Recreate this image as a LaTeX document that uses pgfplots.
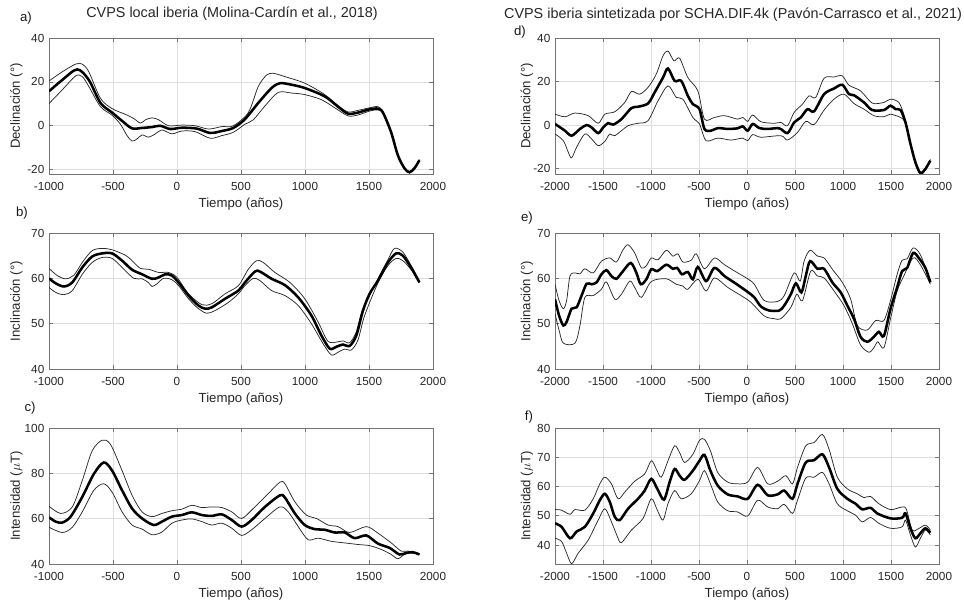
\documentclass[border=0pt]{standalone}
\usepackage{fontspec}
\setmainfont{Liberation Sans}
\usepackage{pgfplots}
\pgfplotsset{compat=1.18}

\pgfplotsset{
 panel/.style={scale only axis,width=288pt,height=102pt,anchor=south west,
  axis line style={black!55},tick style={black!55,line width=0.4pt},tick align=inside,major tick length=2.8pt,
  grid=major,major grid style={black!13,line width=0.4pt},
  ticklabel style={font=\fontsize{8.8}{10}\selectfont,text=black!85},
  xticklabel style={yshift=-3pt},
  label style={font=\fontsize{9.9}{11}\selectfont,text=black!85},
  xlabel={Tiempo (años)},xlabel style={at={(axis description cs:0.5,-0.22)},anchor=center},
  scaled ticks=false,clip=true,
  /pgf/number format/1000 sep={},/pgf/number format/assume math mode=true},
 left/.style={panel,xmin=-1000,xmax=2000,xtick={-1000,-500,...,2000},
  ylabel style={at={(axis description cs:-0.085,0.5)},anchor=center}},
 right/.style={panel,xmin=-2000,xmax=2000,xtick={-2000,-1500,...,2000},
  ylabel style={at={(axis description cs:-0.073,0.5)},anchor=center}},
 mean/.style={black,line width=1.9pt,smooth,tension=0.5},
 band/.style={black!85,line width=0.55pt,smooth,tension=0.5},
}

\begin{document}
\begin{tikzpicture}
\useasboundingbox (0,0) rectangle (723pt,453pt);

% titles and panel letters
\node[font=\fontsize{10.8}{12}\selectfont,text=black!85] at (174pt,442.5pt) {CVPS local iberia (Molina-Cardín et al., 2018)};
\node[font=\fontsize{10.8}{12}\selectfont,text=black!85] at (549.75pt,441.75pt) {CVPS iberia sintetizada por SCHA.DIF.4k (Pavón-Carrasco et al., 2021)};
\begin{scope}[every node/.style={font=\fontsize{9.9}{11}\selectfont,text=black!90}]
\node at (19.5pt,439.5pt) {a)};
\node at (390pt,429pt) {d)};
\node at (16.5pt,293.25pt) {b)};
\node at (395.25pt,289.5pt) {e)};
\node at (22.5pt,147pt) {c)};
\node at (396.75pt,140.25pt) {f)};
\end{scope}

% a) declinacion, local
\begin{axis}[left,at={(36.75pt,322.5pt)},ymin=-22,ymax=40,ytick={-20,0,20,40},ylabel={Declinación (°)}]
\addplot[band] coordinates {(-1000,20.4)(-896,24.6)(-792,28.1)(-740,28.1)(-689,24.6)(-598,12.5)(-507,7.8)(-403,5.2)(-338,3.3)(-286,1.2)(-247,2.7)(-195,3.6)(-143,2.7)(-66,0)(38,0.3)(142,0)(246,-1.5)(350,-0.4)(440,0)(557,6.0)(635,17.9)(700,23.1)(752,23.9)(843,22.4)(998,19.4)(1154,14.2)(1258,9.2)(1336,6.3)(1414,7.0)(1505,8.2)(1570,8.7)(1609,6.3)(1673,-2.7)(1725,-13.1)(1777,-19.1)(1816,-20.9)(1855,-19.1)(1894,-15.4)};
\addplot[band] coordinates {(-1000,10.1)(-896,16.4)(-792,22.7)(-740,22.4)(-689,17.9)(-598,8.7)(-507,4.8)(-442,0.7)(-390,-4.5)(-351,-7.0)(-312,-6.0)(-273,-4.2)(-221,-5.2)(-169,-3.7)(-118,-1.9)(-40,-3.7)(38,-2.4)(142,-2.7)(259,-5.7)(350,-4.5)(440,-3.0)(531,0.7)(596,2.7)(687,9.0)(791,15.2)(895,14.9)(998,14.2)(1128,11.9)(1232,8.2)(1336,4.5)(1414,4.9)(1505,6.7)(1570,7.2)(1609,5.7)(1673,-3.3)(1725,-13.7)(1777,-19.7)(1816,-21.5)(1855,-19.7)(1894,-16.0)};
\addplot[mean] coordinates {(-1000,15.7)(-896,20.9)(-779,25.7)(-689,20.9)(-598,10.4)(-507,6.0)(-429,2.2)(-351,-1.2)(-273,-1.0)(-195,-0.6)(-131,0)(-53,-1.5)(38,-0.9)(155,-1.3)(259,-3.3)(350,-2.4)(440,-1.0)(531,3.0)(635,10.4)(739,17.2)(804,19.4)(895,18.7)(998,17.2)(1154,13.4)(1258,8.7)(1336,5.5)(1414,6.0)(1505,7.5)(1570,7.8)(1609,6.0)(1673,-3.0)(1725,-13.4)(1777,-19.4)(1816,-21.2)(1855,-19.4)(1894,-15.7)};
\end{axis}

% b) inclinacion, local
\begin{axis}[left,at={(36.75pt,176.25pt)},ymin=40,ymax=70,ytick={40,50,60,70},ylabel={Inclinación (°)}]
\addplot[band] coordinates {(-1000,62.2)(-935,60.6)(-870,59.9)(-805,60.7)(-740,63.5)(-663,66.1)(-585,66.6)(-507,66.3)(-403,65.1)(-351,63.9)(-286,62.2)(-221,62.0)(-143,61.3)(-66,61.3)(0,60.2)(90,56.6)(194,54.2)(272,54.4)(376,56.6)(480,58.4)(557,62.0)(622,63.9)(674,63.5)(765,61.3)(882,59.1)(998,55.5)(1102,50.4)(1180,46.1)(1258,46.0)(1297,46.2)(1349,45.8)(1401,48.2)(1453,53.3)(1570,59.9)(1648,64.1)(1699,66.6)(1764,65.8)(1829,62.8)(1894,59.3)};
\addplot[band] coordinates {(-1000,58.0)(-948,56.9)(-883,56.4)(-818,57.3)(-740,60.9)(-663,63.5)(-585,64.6)(-507,64.4)(-429,62.4)(-338,60.0)(-273,59.9)(-221,59.0)(-195,58.2)(-156,58.8)(-105,60.0)(-40,59.7)(12,58.4)(90,55.5)(168,53.3)(233,52.3)(298,52.9)(402,54.7)(480,56.6)(531,58.4)(596,60.0)(648,59.5)(739,57.3)(843,56.2)(947,54.0)(1050,50.0)(1141,45.6)(1206,43.1)(1258,43.7)(1310,44.4)(1362,44.2)(1414,46.4)(1466,51.8)(1570,59.0)(1648,62.8)(1712,64.4)(1764,63.9)(1829,61.9)(1894,59.0)};
\addplot[mean] coordinates {(-1000,60.0)(-948,58.9)(-883,58.2)(-818,59.1)(-740,62.4)(-663,64.8)(-585,65.5)(-507,65.5)(-429,63.9)(-351,61.9)(-273,60.9)(-195,59.9)(-143,60.2)(-92,60.9)(-40,60.6)(12,59.1)(90,56.2)(168,54.0)(220,53.3)(272,53.6)(376,55.5)(480,57.3)(531,59.1)(609,61.5)(648,61.5)(739,59.9)(843,58.5)(947,55.8)(1050,51.8)(1128,47.4)(1193,44.5)(1245,44.9)(1297,45.4)(1349,45.1)(1401,47.4)(1453,52.9)(1505,56.6)(1570,59.5)(1648,63.5)(1712,65.5)(1764,65.0)(1829,62.4)(1894,59.1)};
\end{axis}

% c) intensidad, local
\begin{axis}[left,at={(36.75pt,30pt)},ymin=40,ymax=100,ytick={40,60,80,100},ylabel={Intensidad ($\mu$T)}]
\addplot[band] coordinates {(-1000,65.5)(-909,62.3)(-818,65.2)(-740,76.8)(-663,89.9)(-585,94.6)(-520,92.8)(-429,81.2)(-351,70.3)(-273,63.0)(-195,60.9)(-118,62.3)(-40,63.5)(38,64.2)(116,65.9)(194,64.9)(272,65.2)(350,64.9)(428,63.0)(505,60.1)(596,64.5)(700,70.3)(804,76.1)(843,75.4)(921,67.4)(1011,61.6)(1089,60.1)(1180,57.2)(1258,56.5)(1349,53.9)(1479,56.5)(1570,53.6)(1674,49.3)(1751,45.7)(1803,45.7)(1894,44.6)};
\addplot[band] coordinates {(-1000,56.2)(-896,53.9)(-818,56.2)(-740,63.0)(-650,72.5)(-572,75.4)(-507,71.7)(-429,63.0)(-351,57.2)(-273,55.4)(-195,52.9)(-118,54.1)(-40,58.0)(38,59.4)(116,59.9)(194,58.7)(272,57.2)(350,58.0)(428,55.8)(505,52.6)(583,55.1)(687,60.1)(804,65.2)(869,63.0)(947,56.5)(1024,50.7)(1102,51.4)(1206,50.0)(1310,49.3)(1414,48.6)(1505,48.1)(1596,46.4)(1674,44.2)(1725,42.3)(1777,44.2)(1842,44.9)(1894,44.1)};
\addplot[mean] coordinates {(-1000,60.6)(-948,58.7)(-896,58.3)(-831,60.9)(-740,69.6)(-650,79.7)(-572,84.8)(-507,81.2)(-429,72.5)(-351,64.5)(-273,60.1)(-182,57.2)(-118,58.7)(-40,60.9)(38,61.6)(116,62.8)(194,61.6)(272,61.2)(350,61.9)(428,59.4)(505,56.5)(583,59.4)(687,65.2)(804,70.3)(843,69.3)(921,62.3)(998,57.2)(1076,55.4)(1154,55.1)(1232,53.9)(1310,53.9)(1388,51.4)(1479,52.6)(1570,49.0)(1661,47.1)(1738,44.2)(1790,44.9)(1842,45.2)(1894,44.2)};
\end{axis}

% d) declinacion, SCHA.DIF.4k
\begin{axis}[right,at={(416.25pt,322.5pt)},ymin=-22.5,ymax=40,ytick={-20,0,20,40},ylabel={Declinación (°)}]
\addplot[band] coordinates {(-2000,5.0)(-1896,3.8)(-1792,5.5)(-1654,4.3)(-1550,0.8)(-1481,5.0)(-1377,6.1)(-1273,10.4)(-1204,15.4)(-1118,14.2)(-1031,17.3)(-945,23.4)(-875,31.8)(-823,34.0)(-761,29.5)(-702,30.7)(-616,21.8)(-512,15.7)(-443,2.7)(-339,3.5)(-235,4.3)(-97,2.7)(-45,3.5)(7,1.7)(59,4.6)(145,1.5)(284,0.8)(353,1.2)(422,-0.3)(491,5.8)(578,9.6)(647,13.4)(716,12.7)(803,21.5)(907,22.1)(993,22.6)(1062,18.3)(1183,15.7)(1304,10.1)(1426,10.4)(1495,11.9)(1581,10.4)(1633,5.0)(1651,1.7)(1703,-8.2)(1754,-16.6)(1806,-21.6)(1858,-19.7)(1910,-15.8)};
\addplot[band] coordinates {(-2000,-4.1)(-1913,-7.2)(-1862,-12.5)(-1827,-15.1)(-1775,-10.2)(-1689,-4.1)(-1619,-6.4)(-1550,-9.5)(-1481,-7.5)(-1429,-4.1)(-1377,-4.9)(-1239,-0.3)(-1135,0.8)(-1031,2.0)(-927,11.1)(-823,18.0)(-737,12.7)(-668,11.9)(-564,3.5)(-495,0.5)(-426,-7.2)(-305,-6.0)(-166,-6.9)(-45,-6.0)(7,-7.2)(59,-4.4)(145,-5.6)(353,-4.9)(422,-6.9)(526,-3.4)(612,1.7)(699,0.2)(803,6.9)(907,11.9)(1010,14.2)(1114,9.9)(1218,7.3)(1322,4.3)(1426,3.8)(1495,5.0)(1599,3.5)(1633,2.3)(1651,0.7)(1703,-9.2)(1754,-17.6)(1806,-22.6)(1858,-20.7)(1910,-16.8)};
\addplot[mean] coordinates {(-2000,0.5)(-1896,-2.6)(-1827,-4.9)(-1740,-1.8)(-1671,0)(-1619,-1.1)(-1550,-3.7)(-1498,-1.1)(-1446,0.9)(-1394,0.2)(-1308,2.7)(-1204,7.8)(-1135,8.4)(-1031,9.9)(-962,15.0)(-875,21.8)(-823,26.0)(-754,20.3)(-685,20.3)(-616,13.4)(-564,9.6)(-495,7.3)(-443,-1.8)(-374,-2.6)(-305,-1.4)(-201,-1.8)(-97,-1.5)(-45,-0.6)(7,-2.6)(59,0.5)(128,-1.4)(215,-1.8)(336,-1.5)(422,-3.7)(491,1.2)(561,3.5)(630,7.3)(699,6.3)(803,14.2)(907,16.8)(993,18.5)(1062,14.2)(1114,13.7)(1218,10.4)(1304,6.9)(1426,6.9)(1495,8.9)(1547,7.3)(1599,6.9)(1651,1.2)(1703,-8.7)(1754,-17.1)(1806,-22.1)(1858,-20.2)(1910,-16.3)};
\end{axis}

% e) inclinacion, SCHA.DIF.4k
\begin{axis}[right,at={(416.25pt,176.25pt)},ymin=40,ymax=70,ytick={40,50,60,70},ylabel={Inclinación (°)}]
\addplot[band] coordinates {(-2000,58.7)(-1958,55.1)(-1913,53.3)(-1879,55.1)(-1844,60.5)(-1792,61.2)(-1740,61.0)(-1689,62.1)(-1602,61.2)(-1516,63.8)(-1429,64.5)(-1360,63.6)(-1291,66.3)(-1239,67.4)(-1170,65.6)(-1100,62.3)(-1048,62.8)(-997,64.5)(-927,64.1)(-841,66.2)(-772,64.9)(-720,65.4)(-668,63.6)(-581,64.0)(-529,65.4)(-443,62.1)(-339,64.5)(-235,63.0)(-97,61.2)(7,59.9)(76,58.7)(180,55.1)(318,54.9)(388,56.2)(491,61.2)(554,59.4)(595,63.8)(657,66.2)(734,64.9)(803,64.5)(889,62.0)(993,59.1)(1080,55.4)(1149,49.6)(1253,48.6)(1339,50.7)(1426,50.7)(1495,55.1)(1564,60.9)(1616,64.0)(1668,64.3)(1730,66.7)(1806,65.2)(1910,59.4)};
\addplot[band] coordinates {(-2000,52.2)(-1958,48.6)(-1913,45.7)(-1792,45.7)(-1740,49.6)(-1689,55.8)(-1602,56.2)(-1516,57.6)(-1464,59.2)(-1377,55.4)(-1308,56.5)(-1221,59.4)(-1170,58.0)(-1100,55.8)(-997,59.3)(-841,59.9)(-737,58.7)(-668,58.3)(-616,57.6)(-512,59.8)(-426,57.2)(-339,60.1)(-201,58.0)(-62,56.2)(42,54.7)(180,51.7)(284,51.1)(353,51.1)(457,53.6)(519,56.5)(578,55.1)(664,61.6)(734,60.5)(803,60.1)(907,57.2)(1010,54.0)(1097,50.0)(1183,45.3)(1270,43.7)(1322,44.7)(1363,46.0)(1426,44.7)(1495,51.1)(1564,57.2)(1633,60.5)(1730,64.5)(1806,63.0)(1910,58.7)};
\addplot[mean] coordinates {(-2000,55.4)(-1958,51.8)(-1913,49.6)(-1879,50.4)(-1827,53.3)(-1775,53.6)(-1723,56.2)(-1671,58.8)(-1619,58.7)(-1567,59.1)(-1516,60.9)(-1464,61.8)(-1412,60.5)(-1360,59.9)(-1291,61.6)(-1211,63.4)(-1152,61.2)(-1107,58.7)(-1048,59.8)(-997,62.0)(-934,61.6)(-841,63.0)(-772,62.1)(-727,62.3)(-678,60.9)(-616,61.4)(-564,59.8)(-512,62.5)(-426,59.4)(-339,62.3)(-235,60.5)(-114,58.8)(7,57.0)(76,55.8)(145,53.8)(232,52.9)(336,52.9)(388,54.0)(457,56.5)(509,58.9)(567,56.9)(612,60.5)(657,63.8)(734,62.1)(803,62.1)(889,59.1)(976,56.9)(1045,54.0)(1114,51.1)(1183,47.1)(1253,46.0)(1322,47.1)(1374,48.2)(1426,47.3)(1495,53.3)(1564,58.0)(1616,61.6)(1668,62.3)(1730,65.6)(1789,64.5)(1858,62.3)(1910,59.1)};
\end{axis}

% f) intensidad, SCHA.DIF.4k
\begin{axis}[right,at={(416.25pt,30pt)},ymin=33.5,ymax=80,ytick={40,50,60,70,80},ylabel={Intensidad ($\mu$T)}]
\addplot[band] coordinates {(-2000,52.1)(-1931,51.9)(-1844,50.5)(-1792,52.1)(-1689,51.9)(-1602,55.8)(-1533,60.9)(-1481,63.2)(-1412,60.9)(-1343,55.8)(-1273,58.1)(-1170,61.8)(-1066,64.3)(-997,68.8)(-945,66.0)(-893,63.2)(-823,68.8)(-754,73.9)(-702,71.6)(-650,68.2)(-564,71.0)(-495,75.8)(-443,76.1)(-381,72.2)(-305,64.8)(-201,61.5)(-97,60.9)(7,61.5)(111,66.5)(215,60.9)(318,61.8)(405,63.7)(474,60.9)(526,66.5)(612,73.9)(699,75.0)(786,77.8)(855,72.7)(941,63.2)(1045,59.2)(1149,57.5)(1218,56.2)(1287,56.6)(1374,54.1)(1495,52.1)(1616,53.0)(1661,52.1)(1720,45.1)(1772,45.3)(1858,46.8)(1910,45.1)};
\addplot[band] coordinates {(-2000,42.3)(-1931,41.2)(-1879,37.2)(-1827,33.6)(-1758,37.2)(-1654,41.7)(-1550,48.5)(-1481,52.4)(-1412,47.9)(-1343,42.3)(-1308,40.8)(-1204,45.1)(-1083,49.1)(-997,55.8)(-934,51.9)(-875,48.5)(-823,54.1)(-754,58.6)(-685,55.8)(-581,57.5)(-495,62.0)(-443,65.4)(-374,60.3)(-305,54.7)(-201,51.7)(-97,51.3)(7,49.9)(111,55.3)(215,53.0)(318,52.4)(388,53.9)(474,50.8)(526,55.3)(612,62.9)(699,63.2)(786,64.8)(855,60.9)(941,54.1)(1045,51.7)(1131,50.2)(1200,47.9)(1287,49.4)(1374,47.4)(1495,45.7)(1616,46.2)(1651,48.5)(1703,43.4)(1754,39.3)(1806,42.3)(1858,45.1)(1910,43.4)};
\addplot[mean] coordinates {(-2000,47.4)(-1931,46.2)(-1844,42.3)(-1775,44.6)(-1689,46.2)(-1602,50.8)(-1533,55.3)(-1481,57.5)(-1429,54.7)(-1377,49.6)(-1325,48.5)(-1239,52.4)(-1135,55.8)(-1066,58.6)(-997,62.6)(-934,59.2)(-865,55.5)(-806,61.5)(-754,66.0)(-702,63.7)(-650,62.3)(-564,65.4)(-495,68.8)(-443,70.8)(-381,65.4)(-305,60.3)(-201,57.3)(-97,56.6)(7,55.8)(111,60.6)(215,57.0)(318,57.3)(388,58.6)(474,55.8)(526,60.9)(612,68.2)(699,69.0)(786,71.0)(855,66.5)(941,59.2)(1045,55.8)(1131,54.1)(1200,52.2)(1287,52.7)(1356,50.8)(1495,49.1)(1616,49.3)(1651,50.8)(1703,45.7)(1754,42.3)(1806,44.0)(1858,45.7)(1910,44.2)};
\end{axis}
\end{tikzpicture}
\end{document}
